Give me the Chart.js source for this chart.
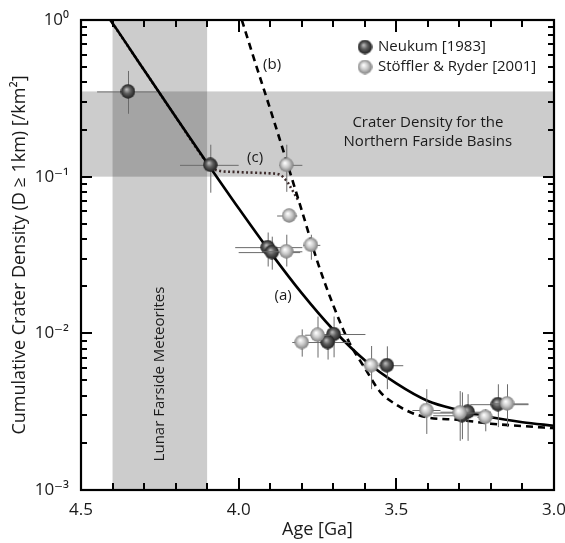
<!DOCTYPE html>
<html><head><meta charset="utf-8">
<script src="https://cdn.jsdelivr.net/npm/chart.js@4/dist/chart.umd.min.js"></script>
<style>html,body{margin:0;padding:0;background:#fff}#wrap{width:565px;height:543px}</style>
</head><body><div id="wrap"><canvas id="c" width="565" height="543"></canvas></div>
<script>
// ---------- data ----------
const neukumAge      = [4.351, 4.09, 3.908, 3.895, 3.699, 3.718, 3.53, 3.292, 3.274, 3.178];
const neukumDensity  = [0.35, 0.119, 0.0355, 0.033, 0.0099, 0.0088, 0.00626, 0.0030, 0.00316, 0.00353];
const neukumAgeOld   = [4.449, 4.186, 4.011, 4.0, 3.748, 3.789, 3.551, 3.383, 3.36, 3.265];
const neukumAgeYoung = [4.259, 4.0, 3.798, 3.805, 3.598, 3.646, 3.478, 3.211, 3.2, 3.081];
const neukumDenHi    = [0.473, 0.160, 0.044, 0.0414, 0.0128, 0.0106, 0.00826, 0.0042, 0.00409, 0.00473];
const neukumDenLo    = [0.252, 0.079, 0.0267, 0.0255, 0.00703, 0.0068, 0.0044, 0.00211, 0.00206, 0.00252];

const stofflerAge      = [3.849, 3.84, 3.849, 3.771, 3.80, 3.75, 3.58, 3.405, 3.299, 3.218, 3.149];
const stofflerDensity  = [0.119, 0.0565, 0.0334, 0.0367, 0.0088, 0.0098, 0.00626, 0.00324, 0.00312, 0.00293, 0.00357];
const stofflerAgeOld   = [3.871, 3.878, 3.922, 3.795, 3.83, 3.789, 3.608, 3.449, 3.383, 3.243, 3.202];
const stofflerAgeYoung = [3.798, 3.814, 3.798, 3.741, 3.773, 3.71, 3.557, 3.36, 3.211, 3.192, 3.081];
const stofflerDenHi    = [0.16, 0.0565, 0.0426, 0.0426, 0.0106, 0.0128, 0.0083, 0.0044, 0.00428, 0.00328, 0.00473];
const stofflerDenLo    = [0.08, 0.0565, 0.0267, 0.0295, 0.0071, 0.007, 0.0044, 0.00228, 0.00206, 0.00237, 0.00252];

const curveAAge = [4.41, 4.4, 4.3, 4.2, 4.1, 4.0, 3.9, 3.8, 3.7, 3.6, 3.5, 3.4, 3.3, 3.2, 3.1, 3.0];
const curveADen = [1.02, 0.955, 0.479, 0.241, 0.1223, 0.0628, 0.0330, 0.01805, 0.01054, 0.00673, 0.00479, 0.0037, 0.00323, 0.00291, 0.00271, 0.00257];

const curveBAge = [3.99, 3.95, 3.90, 3.85, 3.80, 3.75, 3.70, 3.65, 3.60, 3.55, 3.50, 3.45, 3.40, 3.30, 3.20, 3.10, 3.00];
const curveBDen = [1.0, 0.555, 0.27, 0.129, 0.061, 0.0286, 0.0151, 0.0088, 0.0060, 0.0042, 0.0035, 0.0031, 0.0029, 0.0028, 0.00265, 0.00256, 0.00248];

const curveCAge = [4.41, 4.3, 4.2, 4.1, 4.07, 4.0, 3.95, 3.9, 3.87, 3.85, 3.83, 3.81];
const curveCDen = [1.02, 0.479, 0.241, 0.1223, 0.11, 0.107, 0.106, 0.105, 0.103, 0.095, 0.082, 0.07];

const meteoriteAgeRange  = [4.4, 4.1];
const basinDensityRange  = [0.1, 0.35];

const xTickValues = [4.5, 4.0, 3.5, 3.0];
const yTickValues = [0.001, 0.01, 0.1, 1];
const yTickLabels = ['10\u207B\u00B3', '10\u207B\u00B2', '10\u207B\u00B9', '10\u2070'];

const curveLabels = ['(a)', '(b)', '(c)'];
const curveLabelAge = [3.859, 3.894, 3.948];
const curveLabelDen = [0.0175, 0.517, 0.132];

const basinText = ['Crater Density for the', 'Northern Farside Basins'];
const basinTextAge = 3.40;
const basinTextDen = [0.221, 0.167];
const meteoriteText = 'Lunar Farside Meteorites';
const meteoriteTextDen = 0.0055;

const seriesNames = ['Neukum [1983]', 'Stöffler & Ryder [2001]'];

// ---------- styling helpers ----------
const FONT = "'Open Sans', 'DejaVu Sans', sans-serif";
function sphere(dark) {
  const c = document.createElement('canvas'); c.width = c.height = 15;
  const g = c.getContext('2d');
  const gr = g.createRadialGradient(6, 5.5, 0.3, 7.5, 7.5, 7.3);
  if (dark) { gr.addColorStop(0, '#bdbdbd'); gr.addColorStop(0.45, '#5e5e5e'); gr.addColorStop(1, '#1c1c1c'); }
  else { gr.addColorStop(0, '#ffffff'); gr.addColorStop(0.5, '#c9c9c9'); gr.addColorStop(1, '#7d7d7d'); }
  g.fillStyle = gr; g.beginPath(); g.arc(7.5, 7.5, 7.2, 0, Math.PI * 2); g.fill();
  return c;
}
const darkSphere = sphere(true), lightSphere = sphere(false);
const zip = (xs, ys) => xs.map((x, i) => ({ x, y: ys[i] }));

// ---------- plugins ----------
const backgroundPlugin = {
  id: 'bands',
  beforeDatasetsDraw(chart) {
    const { ctx, chartArea: a, scales: { x, y } } = chart;
    ctx.save();
    ctx.fillStyle = 'rgba(0,0,0,0.2)';
    const x1 = x.getPixelForValue(meteoriteAgeRange[0]), x2 = x.getPixelForValue(meteoriteAgeRange[1]);
    ctx.fillRect(x1, a.top, x2 - x1, a.bottom - a.top);
    const y1 = y.getPixelForValue(basinDensityRange[1]), y2 = y.getPixelForValue(basinDensityRange[0]);
    ctx.fillRect(a.left, y1, a.right - a.left, y2 - y1);
    ctx.restore();
  }
};

const errorBarPlugin = {
  id: 'errbars',
  beforeDatasetDraw(chart, args) {
    const ds = chart.data.datasets[args.index];
    if (!ds.err) return;
    const { ctx, scales: { x, y } } = chart;
    ctx.save();
    ctx.strokeStyle = '#6a6a6a'; ctx.lineWidth = 1;
    ds.data.forEach((p, i) => {
      const px = x.getPixelForValue(p.x), py = y.getPixelForValue(p.y);
      ctx.beginPath();
      ctx.moveTo(x.getPixelForValue(ds.err.old[i]), py + 0.5);
      ctx.lineTo(x.getPixelForValue(ds.err.young[i]), py + 0.5);
      ctx.moveTo(px + 0.5, y.getPixelForValue(ds.err.hi[i]));
      ctx.lineTo(px + 0.5, y.getPixelForValue(ds.err.lo[i]));
      ctx.stroke();
    });
    ctx.restore();
  }
};

const framePlugin = {
  id: 'frame',
  afterDatasetsDraw(chart) {
    const { ctx, chartArea: a, scales: { x, y } } = chart;
    ctx.save();
    ctx.fillStyle = '#1a1a1a';
    ctx.textAlign = 'center'; ctx.textBaseline = 'middle';
    ctx.font = '15px ' + FONT;
    curveLabels.forEach((t, i) => ctx.fillText(t, x.getPixelForValue(curveLabelAge[i]), y.getPixelForValue(curveLabelDen[i])));
    basinText.forEach((t, i) => ctx.fillText(t, x.getPixelForValue(basinTextAge), y.getPixelForValue(basinTextDen[i])));
    ctx.save();
    ctx.translate(x.getPixelForValue((meteoriteAgeRange[0] + meteoriteAgeRange[1]) / 2), y.getPixelForValue(meteoriteTextDen));
    ctx.rotate(-Math.PI / 2);
    ctx.fillText(meteoriteText, 0, 0);
    ctx.restore();
    // legend
    ctx.textAlign = 'left';
    [darkSphere, lightSphere].forEach((img, i) => {
      const cy = a.top + 27 + i * 20;
      ctx.drawImage(img, a.left + 284 - 7.5, cy - 7.5);
      ctx.fillText(seriesNames[i], a.left + 297, cy);
    });
    // frame
    ctx.strokeStyle = '#000'; ctx.lineWidth = 2.2;
    ctx.strokeRect(a.left, a.top, a.right - a.left, a.bottom - a.top);
    ctx.lineWidth = 2;
    ctx.beginPath();
    for (let v = 30; v <= 45; v++) {
      const px = Math.round(x.getPixelForValue(v / 10));
      const len = v % 5 === 0 ? 12 : 7;
      ctx.moveTo(px, a.bottom); ctx.lineTo(px, a.bottom - len);
      ctx.moveTo(px, a.top); ctx.lineTo(px, a.top + len);
    }
    for (let d = -3; d < 0; d++) {
      for (let m = 1; m <= 9; m++) {
        const v = m * Math.pow(10, d);
        const py = Math.round(y.getPixelForValue(v));
        const len = m === 1 ? 11 : 6;
        ctx.moveTo(a.left, py); ctx.lineTo(a.left + len, py);
        ctx.moveTo(a.right, py); ctx.lineTo(a.right - len, py);
      }
    }
    ctx.stroke();
    ctx.restore();
  }
};

// ---------- chart ----------
new Chart(document.getElementById('c'), {
  type: 'scatter',
  data: {
    datasets: [
      { label: seriesNames[1], data: zip(stofflerAge, stofflerDensity), pointStyle: lightSphere, order: 1,
        err: { old: stofflerAgeOld, young: stofflerAgeYoung, hi: stofflerDenHi, lo: stofflerDenLo } },
      { label: seriesNames[0], data: zip(neukumAge, neukumDensity), pointStyle: darkSphere, order: 2,
        err: { old: neukumAgeOld, young: neukumAgeYoung, hi: neukumDenHi, lo: neukumDenLo } },
      { label: '(a)', data: zip(curveAAge, curveADen), showLine: true, pointRadius: 0, borderColor: '#000',
        borderWidth: 2.6, cubicInterpolationMode: 'monotone', order: 3 },
      { label: '(b)', data: zip(curveBAge, curveBDen), showLine: true, pointRadius: 0, borderColor: '#000',
        borderWidth: 2.6, borderDash: [7, 5], cubicInterpolationMode: 'monotone', order: 4 },
      { label: '(c)', data: zip(curveCAge, curveCDen), showLine: true, pointRadius: 0, borderColor: '#3d2b2b',
        borderWidth: 2.6, borderDash: [2, 2.5], tension: 0.35, order: 5 }
    ]
  },
  options: {
    responsive: false, animation: false, devicePixelRatio: 1,
    layout: { padding: { top: 20, right: 11, left: 0, bottom: 0 } },
    plugins: { legend: { display: false }, tooltip: { enabled: false } },
    scales: {
      x: {
        type: 'linear', min: 3.0, max: 4.5, reverse: true,
        grid: { display: false }, border: { display: false },
        afterFit: s => { s.height = 53; s.paddingLeft = 0; s.paddingRight = 0; },
        afterBuildTicks: s => { s.ticks = xTickValues.map(v => ({ value: v })); },
        ticks: { autoSkip: false, padding: 2, color: '#1a1a1a', font: { family: FONT, size: 17 },
          maxRotation: 0, callback: v => Number(v).toFixed(1) },
        title: { display: true, text: 'Age [Ga]', color: '#1a1a1a', font: { family: FONT, size: 18 },
          padding: { top: 0, bottom: 2 } }
      },
      y: {
        type: 'logarithmic', min: 0.001, max: 1,
        grid: { display: false }, border: { display: false },
        afterFit: s => { s.width = 81; s.paddingTop = 0; s.paddingBottom = 0; },
        afterBuildTicks: s => { s.ticks = yTickValues.map(v => ({ value: v })); },
        ticks: { autoSkip: false, padding: 4, color: '#1a1a1a', font: { family: FONT, size: 17 },
          callback: (v) => yTickLabels[yTickValues.indexOf(v)] ?? '' },
        title: { display: true, text: 'Cumulative Crater Density (D \u2265 1km) [/km\u00B2]', color: '#1a1a1a',
          font: { family: FONT, size: 18 }, padding: { top: 9, bottom: 0 } }
      }
    }
  },
  plugins: [backgroundPlugin, errorBarPlugin, framePlugin]
});
</script></body></html>
